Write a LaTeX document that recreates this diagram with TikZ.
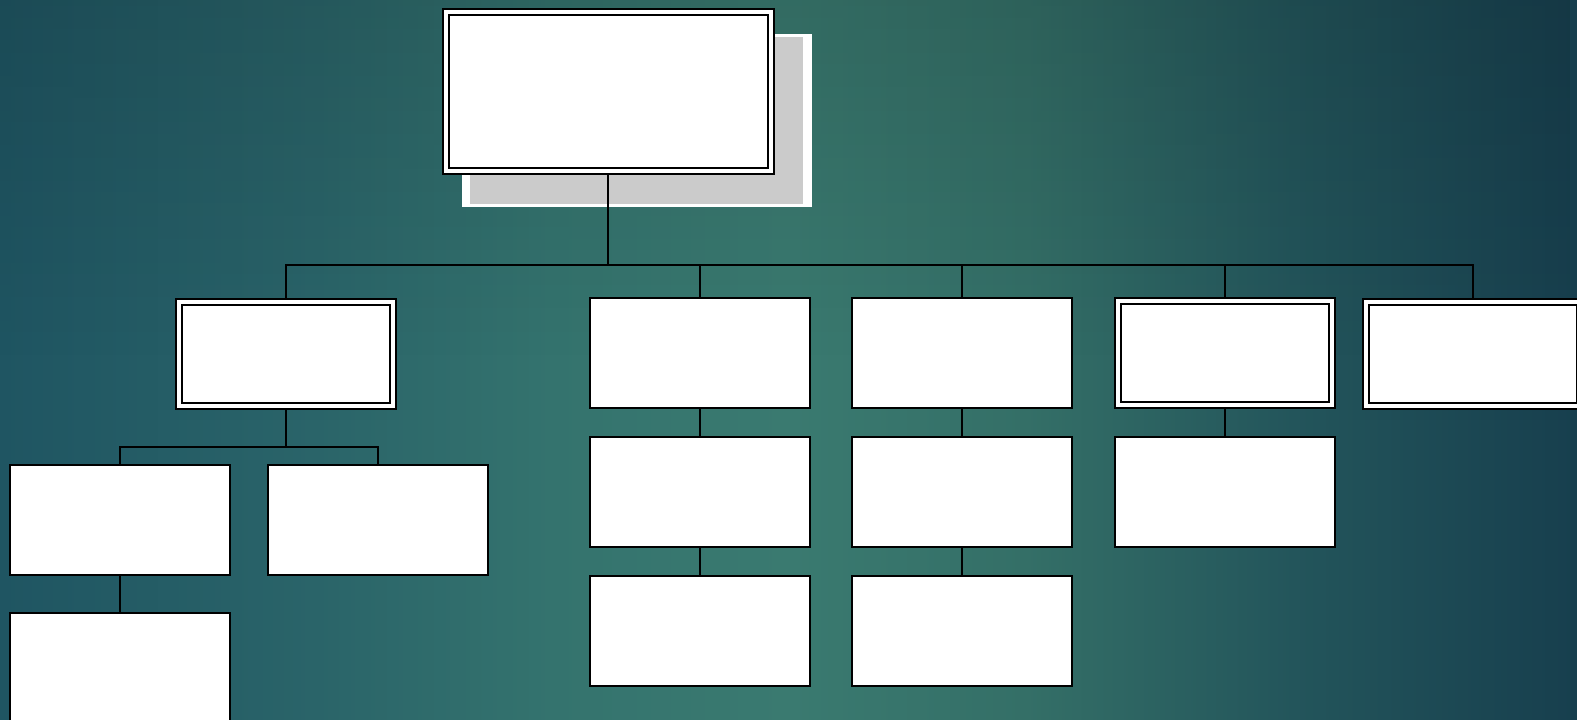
\documentclass[tikz,border=0pt]{standalone}
\usetikzlibrary{fadings}
\definecolor{bgA}{HTML}{1F5562}
\definecolor{bgB}{HTML}{2A6469}
\definecolor{bgG}{HTML}{34736E}
\definecolor{bgC}{HTML}{3A7A70}
\definecolor{bgD}{HTML}{346F67}
\definecolor{bgE}{HTML}{23555B}
\definecolor{bgF}{HTML}{173F4E}
\definecolor{shadowgray}{HTML}{CBCBCB}
\pgfdeclarehorizontalshading{bgsh}{100bp}{color(0bp)=(bgA); color(25bp)=(bgA); color(35bp)=(bgB); color(42.5bp)=(bgG); color(50bp)=(bgC); color(57.5bp)=(bgD); color(66bp)=(bgE); color(75bp)=(bgF); color(100bp)=(bgF)}
\pgfdeclarelayer{bg}
\pgfdeclarelayer{conn}
\pgfsetlayers{bg,conn,main}
\tikzset{
  plainbox/.style={draw=black, fill=white, line width=2pt, minimum width=220pt, minimum height=110pt, inner sep=0pt},
  dblbox/.style={draw=black, fill=white, line width=2pt, double=white, double distance=4pt, minimum width=214pt, minimum height=104pt, inner sep=0pt},
  link/.style={draw=black, line width=2pt}
}
\begin{document}
\begin{tikzpicture}[x=1pt,y=-1pt]
\useasboundingbox (0,0) rectangle (1577,720);
\begin{pgfonlayer}{bg}
  \shade[shading=bgsh] (0,0) rectangle (1577,720);
  \fill[black, opacity=0.12, path fading=south] (0,0) rectangle (1577,360);
  \fill[white] (461.7,34) rectangle (811.7,206.7);
  \fill[shadowgray] (470,36.5) rectangle (802.7,204);
\end{pgfonlayer}
\clip (0,0) rectangle (1577,720);
% top
\node[dblbox, minimum width=325pt, minimum height=159pt] (top) at (608.2,91) {};
% level 1
\node[dblbox] (A) at (285.7,354.3) {};
\node[plainbox] (B) at (699.5,353) {};
\node[plainbox] (C) at (962,353) {};
\node[dblbox] (D) at (1224.5,353.3) {};
\node[dblbox] (E) at (1473,353.5) {};
% level 2
\node[plainbox] (L1) at (119.8,520.3) {};
\node[plainbox] (L2) at (377.5,520.3) {};
\node[plainbox] (L3) at (119.8,667.7) {};
\node[plainbox] (B2) at (699.5,491.8) {};
\node[plainbox] (B3) at (699.5,631) {};
\node[plainbox] (C2) at (962,491.8) {};
\node[plainbox] (C3) at (962,631) {};
\node[plainbox] (D2) at (1224.5,491.5) {};
\coordinate (bus) at (0,264.5);
\coordinate (busL) at (0,447);
\begin{pgfonlayer}{conn}
  \draw[link] (top.center) -- (top.center |- bus);
  \draw[link] (A.center) -- (A.center |- bus) -- (E.center |- bus) -- (E.center);
  \draw[link] (B.center) -- (B.center |- bus);
  \draw[link] (C.center) -- (C.center |- bus);
  \draw[link] (D.center) -- (D.center |- bus);
  \draw[link] (A.center) -- (A.center |- busL);
  \draw[link] (L1.center) -- (L1.center |- busL) -- (L2.center |- busL) -- (L2.center);
  \draw[link] (L1.center) -- (L3.center);
  \draw[link] (B.center) -- (B3.center);
  \draw[link] (C.center) -- (C3.center);
  \draw[link] (D.center) -- (D2.center);
\end{pgfonlayer}
\end{tikzpicture}
\end{document}
